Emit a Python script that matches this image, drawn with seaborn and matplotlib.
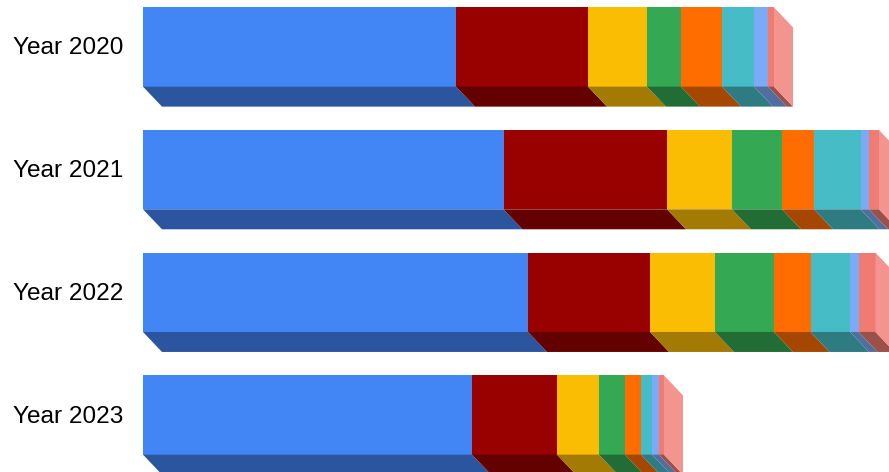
#!/usr/bin/env python3
"""Barres empilees horizontales avec un faux effet 3D"""

import numpy as np
import pandas as pd
import matplotlib

matplotlib.use("Agg")
import matplotlib.pyplot as plt
import seaborn as sns
from matplotlib.colors import to_rgb
from matplotlib.patches import Polygon
from matplotlib.transforms import ScaledTranslation

years = ["Year 2020", "Year 2021", "Year 2022", "Year 2023"]

# segment widths
values_2020 = [313, 132, 59, 34, 41, 32, 14, 6]
values_2021 = [360.5, 163.5, 65, 50, 32, 46.5, 8.5, 10]
values_2022 = [385, 122, 65, 59, 36.5, 39.5, 8.5, 17]
values_2023 = [329, 85, 42, 26, 16, 11, 7, 5]

colors = [
    "#4285F4",
    "#990000",
    "#FBBC04",
    "#34A853",
    "#FF6D01",
    "#46BDC6",
    "#7BAAF7",
    "#F07B72",
]

BAR_WIDTH = 0.646
DEPTH_X = 19
DEPTH_Y = 20 / 122.67


def shade(color, factor=0.65):
    return tuple(c * factor for c in to_rgb(color))


def tint(color, amount=0.2):
    return tuple(c + (1 - c) * amount for c in to_rgb(color))


sns.set_theme(style="white")
plt.rcParams["font.family"] = ["Liberation Sans", "DejaVu Sans"]

table = np.array([values_2020, values_2021, values_2022, values_2023])
ends = table.cumsum(axis=1)
n_segments = table.shape[1]

rows = []
for i, year in enumerate(years):
    for j in range(n_segments):
        rows.append({"year": year, "segment": j, "end": ends[i, j]})
df = pd.DataFrame(rows)

fig = plt.figure(figsize=(8.89, 4.72), dpi=100)
ax = fig.add_axes([143 / 889, 0, 746 / 889, 1])

# longest first: each shorter cumulative bar is painted over the previous one
sns.barplot(
    data=df,
    y="year",
    x="end",
    hue="segment",
    hue_order=list(range(n_segments - 1, -1, -1)),
    palette={j: colors[j] for j in range(n_segments)},
    dodge=False,
    width=BAR_WIDTH,
    saturation=1,
    linewidth=0,
    legend=False,
    orient="h",
    ax=ax,
)

# the floor of each segment and the end wall of each bar
for i in range(len(years)):
    low = i + BAR_WIDTH / 2
    high = i - BAR_WIDTH / 2
    starts = np.concatenate([[0], ends[i, :-1]])
    for j in range(n_segments):
        floor = [
            (starts[j], low),
            (ends[i, j], low),
            (ends[i, j] + DEPTH_X, low + DEPTH_Y),
            (starts[j] + DEPTH_X, low + DEPTH_Y),
        ]
        ax.add_patch(Polygon(floor, facecolor=shade(colors[j]), linewidth=0))
    end = ends[i, -1]
    wall = [
        (end, high),
        (end + DEPTH_X, high + DEPTH_Y),
        (end + DEPTH_X, low + DEPTH_Y),
        (end, low),
    ]
    ax.add_patch(Polygon(wall, facecolor=tint(colors[-1]), linewidth=0))

ax.set_xlim(0, 746)
ax.set_ylim(425 / 122.67, -47 / 122.67)
ax.set_xlabel("")
ax.set_ylabel("")
ax.set_xticks([])
ax.tick_params(axis="y", length=0, pad=14, labelsize=17.6, labelcolor="black")
# labels sit one pixel above the bar centres
nudge = ScaledTranslation(0, 1 / 100, fig.dpi_scale_trans)
for label in ax.get_yticklabels():
    label.set_transform(label.get_transform() + nudge)
sns.despine(ax=ax, left=True, bottom=True)

fig.savefig("out.png", dpi=100)
plt.close(fig)
